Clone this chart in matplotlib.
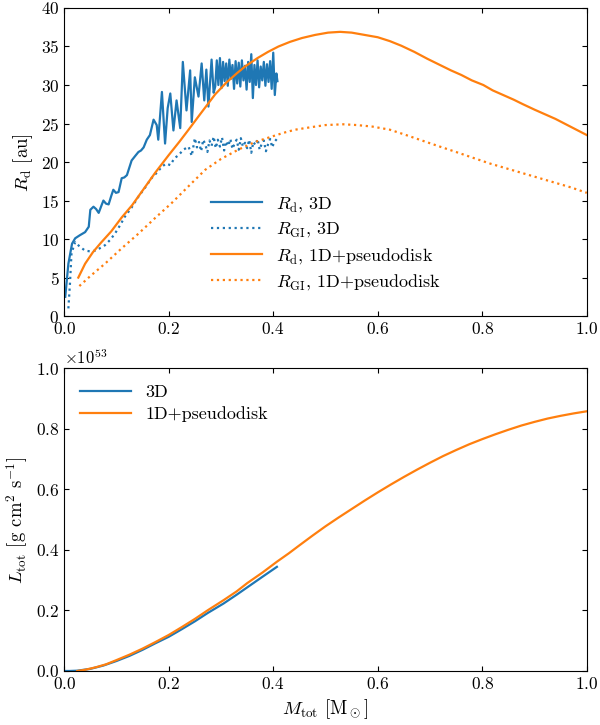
import numpy as np
import matplotlib
matplotlib.use('Agg')
import matplotlib.pyplot as plt
from matplotlib.ticker import ScalarFormatter

plt.rcParams['font.family'] = ['cmr10', 'DejaVu Serif']
plt.rcParams['mathtext.fontset'] = 'cm'
plt.rcParams['axes.unicode_minus'] = False
plt.rcParams['axes.formatter.use_mathtext'] = True

c3d = '#1f77b4'
c1d = '#ff7f0e'

# 3D run: disk radius (noisy) [au]
m_rd3d = [0.002, 0.008, 0.015, 0.021, 0.030, 0.040, 0.047, 0.050, 0.056, 0.061, 0.066, 0.071, 0.075,
          0.080, 0.085, 0.090, 0.094, 0.099, 0.104, 0.110, 0.115, 0.120, 0.129, 0.136, 0.142, 0.147,
          0.152, 0.158, 0.164, 0.171, 0.177, 0.180, 0.187, 0.193, 0.198, 0.203, 0.209, 0.215, 0.222,
          0.227, 0.234, 0.241, 0.244, 0.250, 0.257, 0.263, 0.268, 0.272, 0.276, 0.282, 0.286,
          0.289, 0.292, 0.295, 0.298, 0.301, 0.304, 0.307, 0.310, 0.313, 0.316, 0.319, 0.322,
          0.325, 0.328, 0.331, 0.334, 0.337, 0.340, 0.343, 0.346, 0.349, 0.352, 0.355, 0.358,
          0.361, 0.364, 0.367, 0.370, 0.373, 0.376, 0.379, 0.382, 0.385, 0.388, 0.391, 0.394,
          0.397, 0.400, 0.403, 0.406, 0.408]
rd3d = [2.5, 6.8, 9.4, 10.1, 10.5, 10.9, 11.6, 13.8, 14.2, 13.9, 13.4, 14.3, 15.0,
        14.6, 14.5, 15.6, 16.4, 16.0, 16.1, 17.9, 18.0, 18.3, 20.2, 20.8, 21.3, 21.5,
        21.9, 22.9, 23.5, 25.5, 24.8, 22.9, 29.1, 22.4, 27.0, 28.9, 24.1, 28.0, 24.4,
        33.0, 26.7, 31.9, 25.2, 31.0, 28.5, 32.8, 28.0, 32.0, 27.2, 33.3, 29.0,
        29.8, 33.2, 30.0, 33.5, 29.6, 33.0, 30.5, 32.8, 29.9, 33.3, 30.8, 32.6,
        29.5, 33.1, 30.2, 32.9, 29.8, 33.2, 30.6, 32.5, 29.4, 33.0, 30.4, 34.0,
        28.3, 32.6, 30.0, 33.2, 29.7, 32.4, 30.6, 33.0, 29.9, 32.7, 30.4, 33.1,
        29.5, 34.2, 28.7, 31.5, 30.5]

# 3D run: gravitationally unstable radius [au]
m_rgi3d = [0.008, 0.011, 0.014, 0.021, 0.030, 0.040, 0.050, 0.059, 0.068, 0.078, 0.088,
           0.097, 0.107, 0.116, 0.129, 0.142, 0.155, 0.167, 0.177, 0.187, 0.195, 0.203,
           0.211, 0.219, 0.228, 0.238, 0.244, 0.250, 0.254, 0.258, 0.262, 0.266, 0.270,
           0.274, 0.278, 0.282, 0.286, 0.290, 0.294, 0.298, 0.302, 0.306, 0.310, 0.314,
           0.318, 0.322, 0.326, 0.330, 0.334, 0.338, 0.342, 0.346, 0.350, 0.354, 0.358,
           0.362, 0.366, 0.370, 0.374, 0.378, 0.382, 0.386, 0.390, 0.394, 0.398, 0.402, 0.407]
rgi3d = [1.0, 4.2, 8.2, 9.6, 9.0, 8.5, 8.4, 8.5, 8.8, 9.2, 9.9,
         10.7, 11.8, 12.9, 14.1, 15.5, 16.7, 17.9, 18.6, 19.4, 19.8, 19.6,
         20.5, 20.9, 21.6, 22.0, 20.8, 23.1, 21.9, 22.6, 21.4, 22.9, 22.3,
         21.3, 22.8, 22.1, 23.3, 21.8, 22.9, 22.0, 23.2, 21.5, 22.7, 22.1,
         23.0, 21.7, 22.4, 22.9, 21.6, 23.1, 22.0, 22.5, 21.8, 22.9, 21.2,
         22.6, 22.2, 23.0, 21.6, 22.4, 22.8, 21.4, 22.3, 23.0, 21.9, 22.6, 23.0]

# 1D + pseudodisk model
m_1d = [0.027, 0.040, 0.055, 0.070, 0.090, 0.110, 0.130, 0.150, 0.174, 0.200, 0.220,
        0.238, 0.260, 0.289, 0.310, 0.330, 0.346, 0.370, 0.390, 0.410, 0.432, 0.455,
        0.480, 0.505, 0.528, 0.550, 0.575, 0.600, 0.623, 0.645, 0.670, 0.695, 0.719,
        0.740, 0.760, 0.780, 0.802, 0.820, 0.840, 0.860, 0.878, 0.900, 0.920, 0.940,
        0.960, 0.980, 1.000]
rd1d = [5.0, 6.8, 8.3, 9.5, 11.0, 12.8, 14.4, 16.3, 18.6, 20.9, 22.6,
        24.2, 26.2, 28.8, 30.3, 31.5, 32.4, 33.5, 34.3, 35.0, 35.6, 36.1,
        36.5, 36.8, 36.9, 36.8, 36.5, 36.2, 35.7, 35.1, 34.3, 33.4, 32.6,
        31.9, 31.3, 30.6, 30.0, 29.3, 28.7, 28.1, 27.5, 26.8, 26.2, 25.6,
        24.9, 24.2, 23.5]

m_gi1d = [0.029, 0.050, 0.078, 0.110, 0.142, 0.175, 0.206, 0.240, 0.270, 0.300, 0.333,
          0.365, 0.397, 0.420, 0.442, 0.470, 0.500, 0.534, 0.560, 0.590, 0.623, 0.650,
          0.680, 0.719, 0.750, 0.780, 0.815, 0.850, 0.880, 0.910, 0.940, 0.970, 1.000]
rgi1d = [3.9, 5.2, 6.8, 8.8, 10.7, 12.8, 14.7, 17.0, 19.0, 20.4, 21.6,
         22.6, 23.3, 23.8, 24.2, 24.5, 24.8, 24.9, 24.8, 24.6, 24.2, 23.6,
         22.9, 22.0, 21.3, 20.6, 19.8, 19.1, 18.5, 17.9, 17.3, 16.7, 16.0]

# total angular momentum [1e53 g cm^2 s^-1]
m_l3d = [0.0, 0.01, 0.025, 0.05, 0.075, 0.10, 0.125, 0.15, 0.175, 0.20, 0.225,
         0.25, 0.275, 0.305, 0.33, 0.355, 0.38, 0.407]
l3d = [0.0, 0.0, 0.001, 0.007, 0.018, 0.033, 0.050, 0.070, 0.092, 0.113, 0.138,
       0.164, 0.192, 0.223, 0.252, 0.282, 0.312, 0.344]

m_l1d = [0.025, 0.04, 0.06, 0.08, 0.10, 0.125, 0.15, 0.175, 0.20, 0.225, 0.25,
         0.275, 0.305, 0.33, 0.35, 0.38, 0.407, 0.43, 0.45, 0.475, 0.50, 0.525,
         0.55, 0.575, 0.60, 0.625, 0.65, 0.675, 0.70, 0.725, 0.75, 0.775, 0.80,
         0.825, 0.85, 0.875, 0.90, 0.925, 0.95, 0.975, 1.00]
l1d = [0.0, 0.004, 0.012, 0.022, 0.036, 0.054, 0.074, 0.096, 0.119, 0.145, 0.172,
       0.201, 0.234, 0.263, 0.290, 0.326, 0.361, 0.389, 0.415, 0.447, 0.478, 0.507,
       0.535, 0.563, 0.590, 0.616, 0.641, 0.665, 0.688, 0.710, 0.730, 0.749, 0.766,
       0.782, 0.797, 0.811, 0.823, 0.834, 0.843, 0.851, 0.858]

fig = plt.figure(figsize=(6, 7.25), dpi=100)
ax1 = fig.add_axes([0.107, 0.564, 0.871, 0.425])
ax2 = fig.add_axes([0.107, 0.0745, 0.871, 0.4175])

lw = 1.6
ax1.plot(m_rd3d, rd3d, color=c3d, lw=lw, label=r'$R_{\rm d}$, 3D')
ax1.plot(m_rgi3d, rgi3d, color=c3d, lw=lw, ls=':', label=r'$R_{\rm GI}$, 3D')
ax1.plot(m_1d, rd1d, color=c1d, lw=lw, label=r'$R_{\rm d}$, 1D+pseudodisk')
ax1.plot(m_gi1d, rgi1d, color=c1d, lw=lw, ls=':', label=r'$R_{\rm GI}$, 1D+pseudodisk')
ax1.set_xlim(0, 1)
ax1.set_ylim(0, 40)
ax1.set_ylabel(r'$R_{\rm d}$ [au]', fontsize=13.5)
ax1.legend(loc='upper left', bbox_to_anchor=(0.25, 0.445), frameon=False,
           handlelength=2.8, fontsize=13, labelspacing=0.35)

ax2.plot(np.array(m_l3d), np.array(l3d) * 1e53, color=c3d, lw=lw, label='3D')
ax2.plot(np.array(m_l1d), np.array(l1d) * 1e53, color=c1d, lw=lw, label='1D+pseudodisk')
ax2.set_xlim(0, 1)
ax2.set_ylim(0, 1e53)
fmt = ScalarFormatter(useMathText=True)
ax2.yaxis.set_major_formatter(fmt)
ax2.yaxis.get_offset_text().set_fontsize(12)
ax2.set_ylabel(r'$L_{\rm tot}$ [g cm$^2$ s$^{-1}$]', fontsize=13.5)
ax2.set_xlabel(r'$M_{\rm tot}$ [M$_\odot$]', fontsize=13.5)
ax2.legend(loc='upper left', frameon=False, handlelength=2.8, fontsize=13,
           labelspacing=0.35)

for ax in (ax1, ax2):
    ax.tick_params(direction='in', top=True, right=True, labelsize=12.5)
    ax.set_xticks([0.0, 0.2, 0.4, 0.6, 0.8, 1.0])

fig.savefig('out.png', dpi=100)
